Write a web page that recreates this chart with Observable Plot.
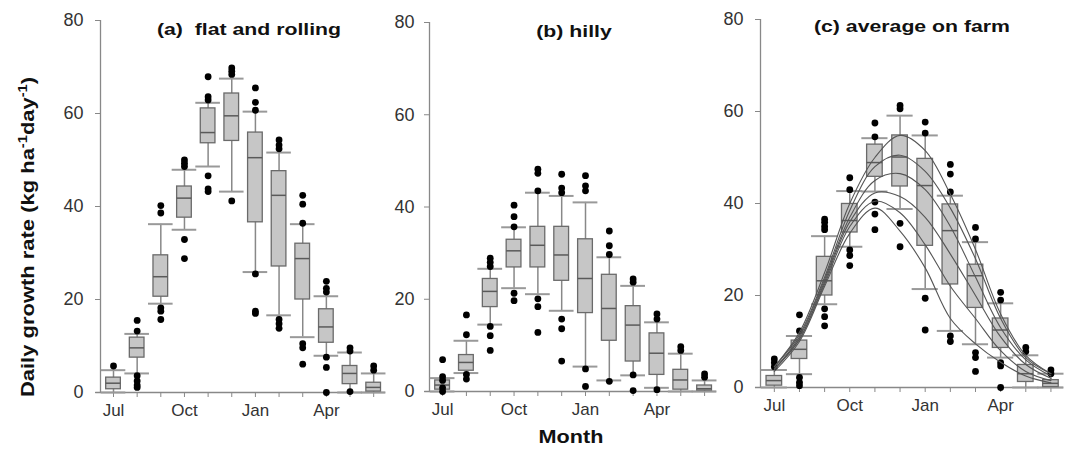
<!DOCTYPE html>
<html><head><meta charset="utf-8">
<script src="https://cdn.jsdelivr.net/npm/d3@7"></script>
<script src="https://cdn.jsdelivr.net/npm/@observablehq/plot@0.6"></script>
<style>
body{margin:0;background:#fff;font-family:"Liberation Sans",Arial,sans-serif;}
#wrap{position:relative;width:1067px;height:464px;overflow:hidden;background:#fff}
.panel{position:absolute;top:0}
.ttl{position:absolute;transform:translate(-50%,-50%) scaleX(1.25);font-weight:bold;font-size:17px;white-space:nowrap;color:#111}
#ylab{position:absolute;left:27px;top:237px;transform:translate(-50%,-50%) rotate(-90deg) scaleX(1.22);font-weight:bold;font-size:18px;white-space:nowrap;color:#111}
#ylab sup{font-size:12px;}
#xlab{position:absolute;left:571px;top:437px;transform:translate(-50%,-50%) scaleX(1.2);font-weight:bold;font-size:18px;color:#111}
</style></head><body>
<div id="wrap">
<div class="panel" id="pa" style="left:0px"></div>
<div class="panel" id="pb" style="left:390px"></div>
<div class="panel" id="pc" style="left:720px"></div>
<div class="ttl" id="ta" style="left:249px;top:30px"></div>
<div class="ttl" id="tb" style="left:574px;top:32px"></div>
<div class="ttl" id="tc" style="left:912px;top:27px"></div>
<div id="ylab">Daily growth rate (kg ha<sup>-1</sup>day<sup>-1</sup>)</div>
<div id="xlab">Month</div>
</div>
<script>
const months = ["Jul","Aug","Sep","Oct","Nov","Dec","Jan","Feb","Mar","Apr","May","Jun"];
const labelledMonths = ["Jul","Oct","Jan","Apr"];
const yTicks = [0, 20, 40, 60, 80];
const titles = ["(a)\u00a0 flat and rolling", "(b) hilly", "(c) average on farm"];

// (a) flat and rolling
const loA  = [0, 4.1, 19.1, 35.0, 48.6, 43.2, 25.9, 16.6, 11.9, 7.9, 0, 0];
const q1A  = [0.7, 7.5, 20.6, 37.6, 53.6, 54.1, 36.6, 27.1, 20.0, 10.7, 1.8, 0.2];
const medA = [2.0, 9.6, 24.9, 41.8, 55.9, 59.5, 50.5, 42.4, 28.8, 14.1, 4.1, 1.1];
const q3A  = [3.2, 11.8, 29.5, 44.3, 61.1, 64.3, 55.9, 47.6, 32.0, 17.9, 5.7, 2.1];
const hiA  = [4.8, 12.6, 36.2, 47.9, 62.3, 67.5, 60.4, 51.6, 36.2, 20.7, 8.6, 4.1];
const outA = [[5.7],[13.2,15.5,3.6,2.5,1.6,1.1],[40.2,38.6,18.2,17.5,15.7],[50,49.3,48.6,32.9,28.8],
  [67.9,63.6,62.9,46.6,43.8,43.2],[69.8,69.1,68.4,41.2],[65.5,62.4,60.7,25.5,17.5,17.0],[54.3,53.2,52.4,15.7,14.8,13.8],
  [42.4,40.5,36.4,10.5,9.6,6.1],[23.9,22.4,21.6,7.6,5.4,0],[9.6,8.9,0.2],[5.7,4.8]];

// (b) hilly
const loB  = [0, 4.0, 14.5, 22.4, 21.1, 17.5, 5.4, 2.4, 3.5, 0.8, 0, 0];
const q1B  = [0.4, 4.5, 18.3, 26.9, 26.9, 24.0, 17.0, 11.0, 6.5, 3.6, 0.4, 0.2];
const medB = [1.4, 6.3, 21.7, 30.5, 31.7, 29.6, 24.5, 18.0, 14.4, 8.3, 2.5, 0.6];
const q3B  = [2.4, 7.9, 24.4, 32.9, 35.7, 35.7, 33.0, 25.3, 18.5, 12.6, 4.7, 1.3];
const hiB  = [2.9, 11.0, 26.6, 35.6, 43.1, 42.4, 41.0, 29.1, 22.9, 15.0, 8.2, 2.4];
const outB = [[6.9,3.2,2.4,0.8,0],[16.6,12.3,3.7,2.7],[28.9,28.0,27.1,14.1,12.1,8.9],[40.4,37.9,35.7,21.3,19.7],
  [48.2,47.3,43.5,20.1,18.4,12.8],[47.1,44.1,43.1,15.7,13.6,6.6],[46.8,44.6,43.5,4.9,1.1],[34.8,31.6,29.7,2.2],
  [24.4,23.7,3.6,0.2],[16.8,15.7,0.4],[9.7,8.9],[3.8,3.1]];

// (c) average on farm
const loC  = [0, 2.9, 18.1, 30.6, 42.6, 38.8, 21.4, 12.3, 9.4, 6.5, 0, 0];
const q1C  = [0.4, 6.2, 20.0, 33.7, 45.8, 43.7, 30.8, 22.4, 17.3, 8.6, 1.2, 0.1];
const medC = [1.5, 8.3, 23.2, 36.3, 48.9, 50.1, 43.9, 34.1, 24.3, 12.5, 3.0, 0.9];
const q3C  = [2.5, 10.2, 28.4, 39.9, 52.8, 54.8, 49.7, 39.8, 26.7, 15.0, 4.9, 1.6];
const hiC  = [3.8, 11.2, 32.9, 42.7, 54.2, 59.1, 54.8, 41.7, 31.6, 18.3, 7.0, 3.0];
const outC = [[6.2,5.4,4.5],[15.8,12.3,2.2,1.1,0.4],[36.6,35.9,35.0,34.3,17.1,15.4,13.4],[45.6,43.0,29.9,28.7,26.5],
  [57.5,54.5,40.3,37.7,34.3],[61.3,60.6,35.7,30.6],[57.7,55.3,19.4,12.5],[48.5,46.4,42.5,11.2,10.0],
  [34.8,32.3,7.6,6.5,3.5],[20.7,19.0,5.4,4.7,0],[8.7,7.8],[3.8,3.0]];

// farm curves in (c)
const farm1 = [4.5, 12.0, 25.0, 40.0, 50.0, 54.8, 51.5, 42.0, 30.0, 16.0, 7.0, 3.0];
const farm2 = [4.5, 11.5, 24.0, 38.5, 48.0, 50.5, 47.0, 39.0, 28.0, 15.0, 6.5, 3.0];
const farm3 = [4.0, 11.0, 23.5, 37.0, 45.0, 46.5, 43.0, 35.0, 24.0, 13.0, 6.0, 2.5];
const farm4 = [4.0, 10.5, 23.0, 36.0, 42.3, 41.5, 37.0, 29.0, 20.0, 11.0, 5.0, 2.0];
const farm5 = [4.0, 10.5, 22.5, 35.0, 40.5, 38.0, 31.0, 22.0, 15.0, 8.0, 3.5, 1.5];
const farm6 = [3.5, 10.0, 22.0, 33.5, 39.0, 34.0, 26.0, 15.0, 9.5, 5.5, 2.5, 1.0];
const farms = [farm1, farm2, farm3, farm4, farm5, farm6];

function panel(cfg) {
  const rows = months.map((m, i) => ({i, m, lo: cfg.lo[i], q1: cfg.q1[i], med: cfg.med[i], q3: cfg.q3[i], hi: cfg.hi[i]}));
  const outs = cfg.out.flatMap((arr, i) => arr.map(v => ({i, v})));
  const bw = 0.31, cw = 0.52;
  const xmin = -0.55, xmax = 11.5;
  const marks = [
    Plot.ruleY([0], {x1: xmin - 0.2, x2: xmax, stroke: "#888", strokeWidth: 1.3}),
    Plot.ruleX([xmin], {y1: 0, y2: 80, stroke: "#888", strokeWidth: 1.3}),
    Plot.axisY({ticks: yTicks, tickSize: 5, tickPadding: cfg.pad, stroke: "#888", fill: "#333", label: null, fontSize: 18}),
    Plot.axisX({ticks: d3.range(12), tickSize: 5, tickPadding: 6, stroke: "#888", fill: "#333", label: null, fontSize: 17,
      tickFormat: i => labelledMonths.includes(months[i]) ? months[i] : ""}),
    Plot.ruleX(rows, {x: "i", y1: "lo", y2: "hi", stroke: "#888", strokeWidth: 1.5}),
    Plot.ruleY(rows, {y: "lo", x1: d => d.i - cw, x2: d => d.i + cw, stroke: "#999", strokeWidth: 2}),
    Plot.ruleY(rows, {y: "hi", x1: d => d.i - cw, x2: d => d.i + cw, stroke: "#999", strokeWidth: 2}),
    Plot.rect(rows, {x1: d => d.i - bw, x2: d => d.i + bw, y1: "q1", y2: "q3", fill: "#c6c6c6", stroke: "#6a6a6a", strokeWidth: 1.3}),
    Plot.ruleY(rows, {y: "med", x1: d => d.i - bw, x2: d => d.i + bw, stroke: "#5a5a5a", strokeWidth: 1.5}),
    Plot.dot(outs, {x: "i", y: "v", r: 3.4, fill: "#000", stroke: null})
  ];
  if (cfg.curves) {
    cfg.curves.forEach(f => {
      marks.push(Plot.line(f.map((v, i) => ({i, v})), {x: "i", y: "v", stroke: "#555", strokeWidth: 1.1, curve: "catmull-rom"}));
    });
  }
  return Plot.plot({
    width: cfg.width, height: 425,
    marginLeft: cfg.ml, marginRight: cfg.mr, marginTop: cfg.mt, marginBottom: 425 - cfg.y0,
    style: {fontFamily: "'Liberation Sans', Arial, sans-serif", background: "transparent", overflow: "visible"},
    x: {type: "linear", domain: [xmin, xmax], axis: null},
    y: {domain: [0, 80], axis: null},
    marks
  });
}

document.getElementById("ta").textContent = titles[0];
document.getElementById("tb").textContent = titles[1];
document.getElementById("tc").textContent = titles[2];
document.getElementById("pa").append(panel({lo: loA, q1: q1A, med: medA, q3: q3A, hi: hiA, out: outA,
  width: 390, ml: 100, mr: 5, mt: 20, y0: 392, pad: 12}));
document.getElementById("pb").append(panel({lo: loB, q1: q1B, med: medB, q3: q3B, hi: hiB, out: outB,
  width: 330, ml: 39, mr: 4, mt: 22, y0: 391, pad: 10}));
document.getElementById("pc").append(panel({lo: loC, q1: q1C, med: medC, q3: q3C, hi: hiC, out: outC, curves: farms,
  width: 347, ml: 40, mr: 4, mt: 19, y0: 387, pad: 12}));
</script>
</body></html>
